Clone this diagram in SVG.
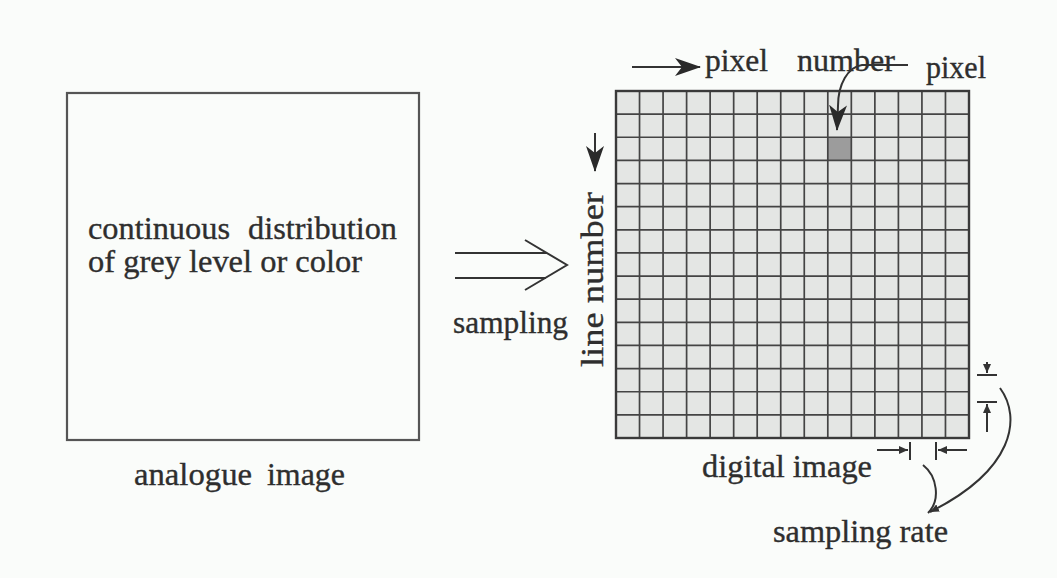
<svg xmlns="http://www.w3.org/2000/svg" width="1057" height="578" viewBox="0 0 1057 578">
<defs>
<style>
.t{font-family:"Liberation Serif","Times New Roman",serif;font-size:32px;fill:#2e2e2e;stroke:#2e2e2e;stroke-width:0.35;}
.ln{stroke:#333;stroke-width:2;fill:none;}
.grid{stroke:#444;stroke-width:1.7;fill:none;}
</style>
<marker id="head" viewBox="0 0 26 18" refX="25" refY="9" markerWidth="26" markerHeight="18" orient="auto" markerUnits="userSpaceOnUse">
<path d="M0,0 L26,9 L0,18 L7,9 Z" fill="#2a2a2a"/>
</marker>
<marker id="tick" viewBox="0 0 9 8" refX="9" refY="4" markerWidth="9" markerHeight="8" orient="auto" markerUnits="userSpaceOnUse">
<path d="M0,0 L9,4 L0,8 Z" fill="#333"/>
</marker>
</defs>
<rect width="1057" height="578" fill="#fafcfa"/>

<g id="analogue-image">
<rect x="67" y="93" width="352" height="347" fill="none" stroke="#555" stroke-width="2.2"/>
<text class="t" y="239"><tspan x="88" textLength="142" lengthAdjust="spacingAndGlyphs">continuous</tspan><tspan x="248" textLength="149" lengthAdjust="spacingAndGlyphs">distribution</tspan></text>
<text class="t" x="88" y="272" textLength="274" lengthAdjust="spacingAndGlyphs">of grey level or color</text>
<text class="t" y="485"><tspan x="134" textLength="118" lengthAdjust="spacingAndGlyphs">analogue</tspan><tspan x="267" textLength="78" lengthAdjust="spacingAndGlyphs">image</tspan></text>
</g>

<g id="digital-image">
<rect x="616" y="91" width="353" height="347" fill="#e4e6e4"/>
<rect x="827.8" y="137.27" width="23.53" height="23.13" fill="#9c9c9c"/>
<path class="grid" d="M616,91V438M639.53,91V438M663.07,91V438M686.6,91V438M710.13,91V438M733.67,91V438M757.2,91V438M780.73,91V438M804.27,91V438M827.8,91V438M851.33,91V438M874.87,91V438M898.4,91V438M921.93,91V438M945.47,91V438M969,91V438"/>
<path class="grid" d="M616,91H969M616,114.13H969M616,137.27H969M616,160.4H969M616,183.53H969M616,206.67H969M616,229.8H969M616,252.93H969M616,276.07H969M616,299.2H969M616,322.33H969M616,345.47H969M616,368.6H969M616,391.73H969M616,414.87H969M616,438H969"/>
<rect x="616" y="91" width="353" height="347" fill="none" stroke="#3a3a3a" stroke-width="2.4"/>
<text class="t" y="71"><tspan x="705" textLength="63" lengthAdjust="spacingAndGlyphs">pixel</tspan><tspan x="797" textLength="98" lengthAdjust="spacingAndGlyphs">number</tspan></text>
<text class="t" x="926" y="78" textLength="60" lengthAdjust="spacingAndGlyphs">pixel</text>
<text class="t" transform="translate(603,367) rotate(-90)" x="0" y="0" textLength="175" lengthAdjust="spacingAndGlyphs">line number</text>
<text class="t" x="702" y="477" textLength="170" lengthAdjust="spacingAndGlyphs">digital image</text>
<text class="t" x="773" y="542" textLength="175" lengthAdjust="spacingAndGlyphs">sampling rate</text>
</g>

<g id="sampling-label">
<text class="t" x="453" y="333" textLength="115" lengthAdjust="spacingAndGlyphs">sampling</text>
</g>

<g id="connectors">
<path class="ln" d="M455,253H547M455,278H546"/>
<path class="ln" stroke-width="2.6" d="M525,240L567,265L525,290"/>
<path class="ln" d="M632,67H700" marker-end="url(#head)"/>
<path class="ln" d="M595,133V171" marker-end="url(#head)"/>
<path class="ln" d="M908,65H862C848,67 838,84 838,106L837,130" marker-end="url(#head)"/>
<path class="ln" d="M877,450H908" marker-end="url(#tick)"/>
<path class="ln" d="M910,442V460M936,442V460"/>
<path class="ln" d="M967,450H938" marker-end="url(#tick)"/>
<path class="ln" d="M987,362V373" marker-end="url(#tick)"/>
<path class="ln" d="M977,375H997M977,402H997"/>
<path class="ln" d="M987,432V404" marker-end="url(#tick)"/>
<path class="ln" d="M923,465C937,476 941,500 928,513"/>
<path class="ln" d="M1000,388C1022,418 1014,470 930,512" marker-end="url(#tick)"/>
</g>
</svg>
